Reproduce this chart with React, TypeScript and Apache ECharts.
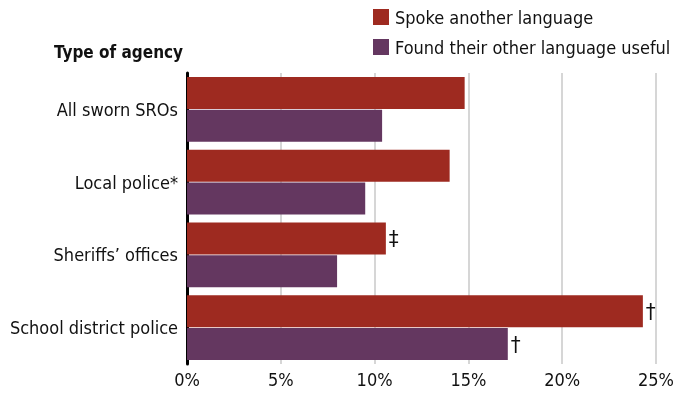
import React, { useEffect, useRef } from "react";
import * as echarts from "echarts";

const categories = ["All sworn SROs", "Local police*", "Sheriffs’ offices", "School district police"];
const spokeValues = [14.8, 14.0, 10.6, 24.3];
const usefulValues = [10.4, 9.5, 8.0, 17.1];
const spokeMarks = ["", "", "‡", "†"];
const usefulMarks = ["", "", "", "†"];
const xTicks = [0, 5, 10, 15, 20, 25];

const FONT = "'DejaVu Sans', sans-serif";
const RED = "#9e2a20";
const PURPLE = "#643760";

function withMarks(values: number[], marks: string[]) {
  return values.map((v, i) =>
    marks[i]
      ? {
          value: v,
          label: {
            show: true,
            position: "right",
            distance: 3,
            formatter: marks[i],
            fontSize: 22,
            color: "#111",
            fontFamily: FONT,
          },
        }
      : v
  );
}

export default function App() {
  const ref = useRef<HTMLDivElement>(null);
  useEffect(() => {
    if (!ref.current) return;
    const style = document.createElement("style");
    style.textContent = "svg text { font-stretch: condensed; }";
    document.head.appendChild(style);
    const chart = echarts.init(ref.current, null, { renderer: "svg" });
    chart.setOption({
      animation: false,
      textStyle: { fontFamily: FONT },
      title: {
        text: "Type of agency",
        left: 49,
        top: 38,
        textStyle: { fontFamily: FONT, fontSize: 17, fontWeight: "bold", color: "#111" },
      },
      legend: {
        orient: "vertical",
        left: 368,
        top: 3,
        icon: "rect",
        itemWidth: 16,
        itemHeight: 16,
        itemGap: 12,
        textStyle: { fontFamily: FONT, fontSize: 18, color: "#111", padding: [0, 0, 0, 1] },
        data: ["Spoke another language", "Found their other language useful"],
      },
      grid: { left: 187, right: 32, top: 73, bottom: 33, containLabel: false, outerBoundsMode: "none" },
      xAxis: {
        type: "value",
        min: xTicks[0],
        max: xTicks[xTicks.length - 1],
        interval: 5,
        axisLine: { show: false },
        axisTick: { show: false },
        axisLabel: {
          formatter: "{value}%",
          fontSize: 18,
          color: "#111",
          fontFamily: FONT,
          margin: 6,
        },
        splitLine: { show: true, lineStyle: { color: "#c8c8c8", width: 1.5 } },
      },
      yAxis: {
        type: "category",
        data: categories,
        inverse: true,
        axisLine: { show: true, lineStyle: { color: "#000", width: 3 } },
        axisTick: { show: false },
        axisLabel: { fontSize: 18, color: "#111", fontFamily: FONT, margin: 9, padding: [0, 0, 4, 0] },
      },
      series: [
        {
          name: "Spoke another language",
          type: "bar",
          data: withMarks(spokeValues, spokeMarks),
          itemStyle: { color: RED },
          barCategoryGap: "11%",
          barGap: "3%",
        },
        {
          name: "Found their other language useful",
          type: "bar",
          data: withMarks(usefulValues, usefulMarks),
          itemStyle: { color: PURPLE },
          barCategoryGap: "11%",
          barGap: "3%",
        },
      ],
    });
    return () => {
      chart.dispose();
      style.remove();
    };
  }, []);
  return (
    <div
      ref={ref}
      style={{ position: "fixed", left: 0, top: 0, width: 688, height: 397 }}
    />
  );
}
